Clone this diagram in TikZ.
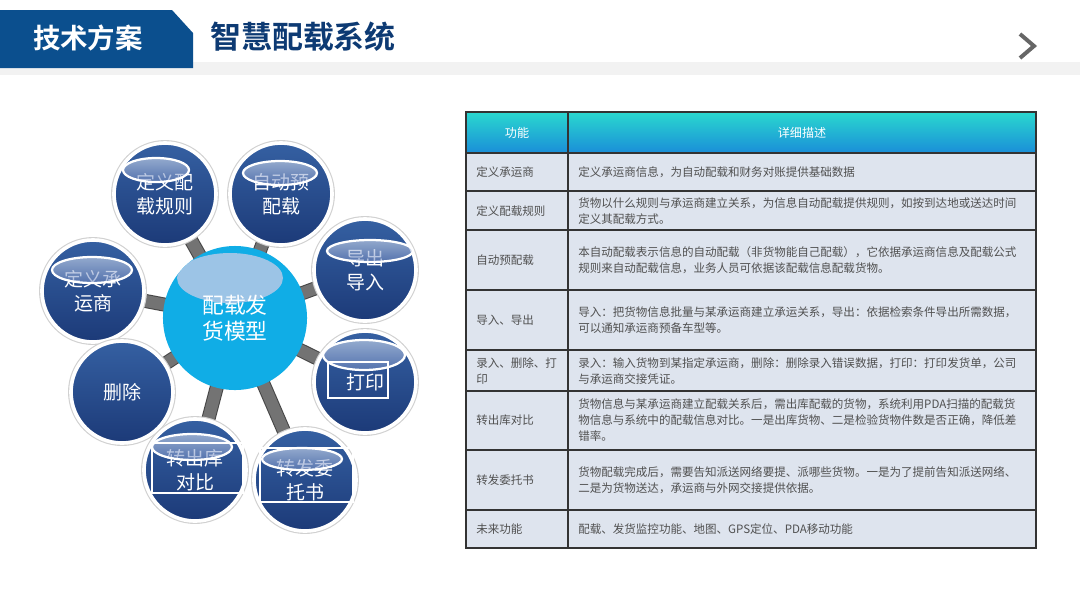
\documentclass[tikz,border=0pt]{standalone}
\usepackage{fontspec}
\setmainfont{Noto Sans CJK SC}[BoldFont={Noto Sans CJK SC Bold}]
\usetikzlibrary{backgrounds}

\definecolor{tabblue}{HTML}{0B4F8E}
\definecolor{titleblue}{HTML}{0D3A73}
\definecolor{bandgray}{HTML}{F2F2F2}
\definecolor{hubcyan}{HTML}{10ADE6}
\definecolor{hubgloss}{HTML}{9CC4E6}
\definecolor{satdark}{HTML}{1C3A78}
\definecolor{satlight}{HTML}{3560A2}
\definecolor{glosstop}{HTML}{D5DFEF}
\definecolor{glossbot}{HTML}{6F89C1}
\definecolor{cellfill}{HTML}{DEE4EE}
\definecolor{gridline}{HTML}{333333}
\definecolor{celltext}{HTML}{505050}
\definecolor{headtop}{HTML}{2AD8CF}
\definecolor{headbot}{HTML}{1A8ED8}

\tikzset{
  sat/.style={circle, minimum size=2.55cm, inner sep=0pt, top color=satlight,
    bottom color=satdark, draw=white, line width=2.6pt,
    preaction={draw=black!18, line width=4.2pt},
    text=white, align=center, font=\fontsize{13.5}{17}\selectfont},
  hub/.style={circle, minimum size=3.6cm, inner sep=0pt, fill=hubcyan,
    text=white, align=center, font=\fontsize{15.5}{18.5}\selectfont,
    path picture={\fill[hubgloss] ([shift={(-5,-40)}]path picture bounding box.center)
      ellipse (53 and 25);}},
  spoke/.style={draw=black!55, line width=8.5pt, preaction={draw=black!72, line width=10pt}},
  gloss/.style={draw=white, line width=1.6pt, top color=glosstop, bottom color=glossbot,
    fill opacity=0.6},
  frame/.style={draw=white, line width=1.6pt},
  headtxt/.style={text=white, font=\fontsize{8.6}{10}\selectfont},
  celltxt/.style={anchor=west, align=left, inner sep=0pt, text=celltext,
    font=\fontsize{8.2}{11.6}\selectfont},
  grid/.style={draw=gridline, line width=1.2pt},
}

\begin{document}
\begin{tikzpicture}[x=0.025cm,y=-0.025cm]
    \useasboundingbox (0,0) rectangle (1080,608);
    \begin{pgfonlayer}{background}
        \fill[white] (0,0) rectangle (1080,608);
    \end{pgfonlayer}
    % Header
    \fill[bandgray] (0,62) rectangle (1080,75);
    \fill[tabblue] (0,10) -- (172,10) -- (193,33) -- (193,68) -- (0,68) -- cycle;
    \node[text=white, font=\bfseries\fontsize{19.5}{22}\selectfont] (tab) at (88,38) {技术方案};
    \node[text=titleblue, font=\bfseries\fontsize{22}{25}\selectfont] (title) at (303,37) {智慧配载系统};
    \draw[black!60, line width=2.8pt] (1020,34) -- (1034,46) -- (1020,58);

    % Hub and satellites
    \node[hub] (hub) at (235,318) {配载发\\货模型};
    \node[sat] (s1) at (165,194) {定义配\\载规则};
    \node[sat] (s2) at (281,194) {自动预\\配载};
    \node[sat] (s3) at (365,270) {导出\\导入};
    \node[sat] (s4) at (93,291) {定义承\\运商};
    \node[sat] (s5) at (122,392) {删除};
    \node[sat] (s6) at (365,382) {打印};
    \node[sat] (s7) at (195,470) {转出库\\对比};
    \node[sat] (s8) at (305,480) {转发委\\托书};
    \begin{pgfonlayer}{background}
        \foreach \n in {s1,s2,s3,s4,s5,s6,s7,s8} {
            \draw[spoke] (hub.center) -- (\n.center);
        }
    \end{pgfonlayer}
    % Gloss caps
    \foreach \n/\dx/\dy/\rx/\ry in {s1/-9/-24/33/12, s2/-1/-21/37/12, s3/5/-19/43/11,
        s4/-1/-21/40/13, s6/-1/-27/41/15, s7/-3/-23/40/13, s8/-3/-21/40/11} {
        \draw[gloss] ([shift={(\dx,\dy)}]\n.center) ellipse ({\rx} and {\ry});
    }
    \draw[frame] ([shift={(-37,-20)}]s6.center) rectangle ([shift={(23,16)}]s6.center);
    \draw[frame] ([shift={(-43,-27)}]s7.center) rectangle ([shift={(48,23)}]s7.center);
    \draw[frame] ([shift={(-45,-32)}]s8.center) rectangle ([shift={(48,22)}]s8.center);

    % Table
    \shade[top color=headtop, bottom color=headbot] (466,112) rectangle (1036,153);
    \fill[cellfill] (466,153) rectangle (1036,548);
    \foreach \y in {153,191,230,290,350,391,450,510} {
        \draw[grid] (466,\y) -- (1036,\y);
    }
    \draw[grid] (568,112) -- (568,548);
    \draw[grid] (466,112) rectangle (1036,548);
    \node[headtxt] (hfunc) at (517,133) {功能};
    \node[headtxt] (hdesc) at (802,133) {详细描述};
    \foreach \y/\a/\b [count=\i] in {
        172/{定义承运商}/{定义承运商信息，为自动配载和财务对账提供基础数据},
        211/{定义配载规则}/{货物以什么规则与承运商建立关系，为信息自动配载提供规则，如按到达地或送达时间\\定义其配载方式。},
        260/{自动预配载}/{本自动配载表示信息的自动配载（非货物能自己配载），它依据承运商信息及配载公式\\规则来自动配载信息，业务人员可依据该配载信息配载货物。},
        320/{导入、导出}/{导入：把货物信息批量与某承运商建立承运关系，导出：依据检索条件导出所需数据，\\可以通知承运商预备车型等。},
        371/{录入、删除、打\\印}/{录入：输入货物到某指定承运商，删除：删除录入错误数据，打印：打印发货单，公司\\与承运商交接凭证。},
        420/{转出库对比}/{货物信息与某承运商建立配载关系后，需出库配载的货物，系统利用PDA扫描的配载货\\物信息与系统中的配载信息对比。一是出库货物、二是检验货物件数是否正确，降低差\\错率。},
        480/{转发委托书}/{货物配载完成后，需要告知派送网络要提、派哪些货物。一是为了提前告知派送网络、\\二是为货物送达，承运商与外网交接提供依据。},
        529/{未来功能}/{配载、发货监控功能、地图、GPS定位、PDA移动功能}} {
        \node[celltxt] (f\i) at (476,\y) {\a};
        \node[celltxt] (d\i) at (578,\y) {\b};
    }
\end{tikzpicture}
\end{document}
